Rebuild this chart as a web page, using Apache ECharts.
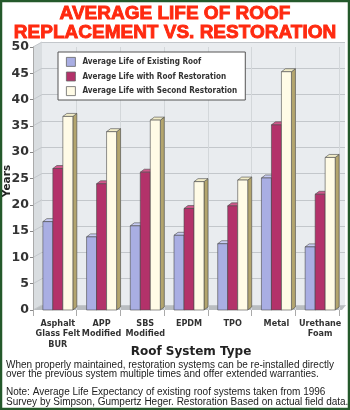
<!DOCTYPE html>
<html><head><meta charset="utf-8">
<script src="https://cdn.jsdelivr.net/npm/echarts@6/dist/echarts.min.js"></script>
<style>html,body{margin:0;padding:0;background:#fff}#c{width:350px;height:410px}</style>
</head><body><div id="c"></div>
<script>
const categories = ['Asphalt\nGlass Felt\nBUR', 'APP\nModified', 'SBS\nModified', 'EPDM', 'TPO', 'Metal', 'Urethane\nFoam'];
const seriesNames = ['Average Life of Existing Roof', 'Average Life with Roof Restoration', 'Average Life with Second Restoration'];
const existing = [16.8, 13.9, 16.0, 14.2, 12.6, 25.1, 12.0];
const restoration = [26.9, 24.0, 26.2, 19.3, 19.8, 35.2, 22.0];
const secondRestoration = [36.8, 33.9, 36.1, 24.4, 24.7, 45.3, 29.0];
const yTicks = [0, 5, 10, 15, 20, 25, 30, 35, 40, 45, 50];

const seriesValues = [existing, restoration, secondRestoration];
const fronts = ['#a9aee3', '#b3326a', '#fffbe6'];
const sides = ['#6f74b5', '#7e1c47', '#b3a56e'];
const tops = ['#c8ccf2', '#d0598c', '#f1ecc8'];

function make3D(idx) {
  return {
    type: 'custom', name: seriesNames[idx], xAxisIndex: 0, yAxisIndex: 0,
    itemStyle: { color: fronts[idx], borderColor: '#555', borderWidth: 0.8 },
    data: seriesValues[idx].map((v, i) => [i, v]),
    encode: { x: 0, y: 1 },
    z: 3,
    renderItem: function (params, api) {
      const c = api.coord([api.value(0), api.value(1)]);
      const b = api.coord([api.value(0), 0]);
      const w = 10, dx = 4, dy = -3;
      const x0 = c[0] + 3 + (idx - 1) * w - w / 2;
      const x1 = x0 + w;
      const yT = c[1], yB = b[1];
      const st = { stroke: '#4a4a4a', lineWidth: 0.6 };
      return { type: 'group', children: [
        { type: 'polygon', shape: { points: [[x1, yT], [x1 + dx, yT + dy], [x1 + dx, yB + dy], [x1, yB]] }, style: Object.assign({ fill: sides[idx] }, st) },
        { type: 'polygon', shape: { points: [[x0, yT], [x0 + dx, yT + dy], [x1 + dx, yT + dy], [x1, yT]] }, style: Object.assign({ fill: tops[idx] }, st) },
        { type: 'rect', shape: { x: x0, y: yT, width: w, height: yB - yT }, style: Object.assign({ fill: fronts[idx] }, st) }
      ] };
    }
  };
}

const chart = echarts.init(document.getElementById('c'), null, { renderer: 'canvas' });
const footStyle = { fontFamily: 'Liberation Sans', fontSize: 10, color: '#222', fontWeight: 'normal', lineHeight: 9.7 };
const baseGraphic = [
  { type: 'polygon', z: -1, shape: { points: [[33, 47], [42, 42], [42, 305], [33, 310]] }, style: { fill: '#d9dde0' } },
  { type: 'polygon', z: -1, shape: { points: [[33, 310], [42, 305], [346, 305], [342, 310]] }, style: { fill: '#b9bdc0' } },
  { type: 'group', x: 7.5, y: 181, rotation: Math.PI / 2, children: [
    { type: 'text', x: 0, y: 0,
      style: { text: 'Years', x: 0, y: 0, align: 'center', verticalAlign: 'middle',
        fill: '#222', fontFamily: 'DejaVu Sans', fontWeight: 'bold', fontSize: 10.5 } }
  ] },
  { type: 'rect', z: 100, shape: { x: 1, y: 1, width: 348, height: 408 }, style: { fill: 'none', stroke: '#24592b', lineWidth: 2.5 } }
];
chart.setOption({
  backgroundColor: '#fff',
  animation: false,
  title: [
    { text: 'AVERAGE LIFE OF ROOF\nREPLACEMENT VS. RESTORATION', left: 'center', top: 4, padding: 0,
      textStyle: { fontFamily: 'Liberation Sans', fontWeight: 'bold', fontSize: 19, color: '#ff2a10', lineHeight: 19,
        textBorderColor: '#ff2a10', textBorderWidth: 0.9 } },
    { text: 'When properly maintained, restoration systems can be re-installed directly\nover the previous system multiple times and offer extended warranties.', left: 6, top: 360, padding: 0, textStyle: footStyle },
    { text: 'Note: Average Life Expectancy of existing roof systems taken from 1996\nSurvey by Simpson, Gumpertz Heger. Restoration Based on actual field data.', left: 6, top: 387.5, padding: 0, textStyle: footStyle }
  ],
  legend: {
    data: seriesNames, orient: 'vertical', left: 58, top: 52,
    backgroundColor: '#fff', borderColor: '#555', borderWidth: 1, borderRadius: 0,
    padding: [5, 8, 4, 8], itemGap: 4.8, itemWidth: 9, itemHeight: 9, icon: 'rect',
    itemStyle: { borderColor: '#666', borderWidth: 0.8 },
    textStyle: { fontFamily: 'DejaVu Sans Condensed', fontWeight: 'bold', fontSize: 8.1, color: '#333', padding: [0, 0, 0, 2] }
  },
  grid: [
    { left: 33, right: 11, top: 47, bottom: 100, show: false, outerBoundsMode: 'none', containLabel: false },
    { left: 42, right: 5, top: 42, bottom: 105, show: true, backgroundColor: '#e9ecef', borderWidth: 0, outerBoundsMode: 'none', containLabel: false }
  ],
  graphic: baseGraphic,
  xAxis: [
    { type: 'category', gridIndex: 0, data: categories,
      name: 'Roof System Type', nameLocation: 'middle', nameGap: 36, nameMoveOverlap: false,
      nameTextStyle: { fontFamily: 'DejaVu Sans', fontWeight: 'bold', fontSize: 12, color: '#222', padding: [0, 0, 0, 10] },
      axisLine: { show: false },
      axisTick: { show: true, length: 6, alignWithLabel: false, lineStyle: { color: '#aaa' } },
      splitLine: { show: true, lineStyle: { color: '#d3d7da', width: 1 } },
      axisLabel: { interval: 0, margin: 8, fontFamily: 'DejaVu Sans Condensed', fontWeight: 'bold', fontSize: 9, color: '#333', lineHeight: 10.5, padding: [0, 0, 0, 6] } },
    { type: 'category', gridIndex: 1, data: categories, show: false }
  ],
  yAxis: [
    { type: 'value', gridIndex: 0, min: 0, max: 50, interval: 5,
      axisLine: { show: true, lineStyle: { color: '#aaa' } },
      axisTick: { show: true, length: 3, lineStyle: { color: '#888' } },
      splitLine: { show: false },
      axisLabel: { margin: 4, fontFamily: 'DejaVu Sans', fontWeight: 'bold', fontSize: 12.5, color: '#333',
        formatter: v => yTicks.includes(v) ? String(v) : '' } },
    { type: 'value', gridIndex: 1, min: 0, max: 50, interval: 5,
      axisLine: { show: false }, axisTick: { show: false }, axisLabel: { show: false },
      splitLine: { show: true, lineStyle: { color: '#c3c7cb', width: 1 } } }
  ],
  series: [make3D(0), make3D(1), make3D(2)]
});
// slanted gridlines on the left wall, joining the front axis ticks to the back-wall gridlines
const wallLines = yTicks.map(v => {
  const yf = chart.convertToPixel({ yAxisIndex: 0 }, v);
  const yb = chart.convertToPixel({ yAxisIndex: 1 }, v);
  return { type: 'line', z: -1, shape: { x1: 33, y1: yf, x2: 42, y2: yb }, style: { stroke: '#c3c7cb', lineWidth: 1 } };
});
chart.setOption({ graphic: baseGraphic.concat(wallLines) });
</script></body></html>
